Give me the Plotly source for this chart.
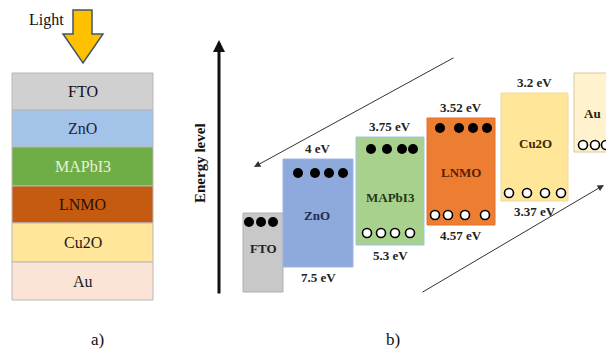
import plotly.graph_objects as go

# ---------------- data ----------------
layers = ["FTO", "ZnO", "MAPbI3", "LNMO", "Cu2O", "Au"]
stack_labels = ["FTO", "ZnO", "MAPbI3", "LNMO", "Cu2O", "Au"]
band_labels = ["FTO", "ZnO", "MAPbI3", "LNMO", "Cu2O", "Au"]
upper_energy = [None, 4, 3.75, 3.52, 3.2, None]      # eV (conduction level)
lower_energy = [None, 7.5, 5.3, 4.57, 3.37, None]    # eV (valence level)
n_electrons = [3, 4, 4, 4, 0, 0]
n_holes = [0, 0, 4, 4, 4, 3]

# ---------------- styles ----------------
stack_fill = ["#d0d0d0", "#a4c3e8", "#6fad47", "#c55a11", "#ffe69a", "#fbe4d6"]
stack_text = ["#111111", "#1a2540", "#e6f2dc", "#2a1203", "#1a1a1a", "#1a1a1a"]
band_fill = ["#c8c8c8", "#8eaadc", "#a9d18e", "#ed7d31", "#ffe699", "#fff2cc"]
band_line = ["#b0b0b0", "#9db4e0", "#9dc3e6", "#e07030", "#f0d8a0", "#d8c8a0"]
band_text = ["#222222", "#1f2d50", "#1f3a1a", "#5a1e05", "#3a2a05", "#2a2010"]
SERIF = "Liberation Serif"

# ---------------- layout geometry (pixels) ----------------
stack_x = (12, 153)
stack_y = [73, 110, 147, 186, 223, 262, 300]
band_box = [  # x0, x1, y0, y1
    (243, 283, 213, 292),
    (283, 353, 159, 267),
    (356, 424, 137, 245),
    (427, 495, 118, 225),
    (501, 568, 93, 201),
    (574, 625, 73, 152),
]
band_label_pos = [(263, 248), (317, 215), (390, 197), (461, 172), (535, 143), (592, 113)]
e_dot_y = [222, 173, 149, 128, None, None]
e_dot_x = [[249, 261, 273], [298, 315, 329, 343], [371, 387, 402, 413],
           [440, 459, 473, 487], [], []]
h_dot_y = [None, None, 233, 215, 193, 145]
h_dot_x = [[], [], [367, 381, 395, 410], [435, 448, 465, 485],
           [509, 527, 545, 561], [583, 595, 606]]

fig = go.Figure()
shapes = []
annotations = []

# ---- panel a: layer stack ----
for i, name in enumerate(layers):
    shapes.append(dict(type="rect", xref="x", yref="y", layer="below",
                       x0=stack_x[0], x1=stack_x[1], y0=stack_y[i], y1=stack_y[i + 1],
                       fillcolor=stack_fill[i], line=dict(color="#b8b8b8", width=1)))
    annotations.append(dict(x=(stack_x[0] + stack_x[1]) / 2, y=(stack_y[i] + stack_y[i + 1]) / 2,
                            text=stack_labels[i], showarrow=False,
                            font=dict(family=SERIF, size=16, color=stack_text[i])))

# light arrow
arrow_path = "M 73 10 L 92 10 L 92 34 L 103 34 L 83 63 L 63 34 L 73 34 Z"
shapes.append(dict(type="path", xref="x", yref="y", path=arrow_path, layer="below",
                   fillcolor="#ffc000", line=dict(color="#44546a", width=1.5)))
annotations.append(dict(x=46, y=20, text="Light", showarrow=False,
                        font=dict(family=SERIF, size=16, color="#111111")))

# ---- panel b: band diagram ----
for i, name in enumerate(band_labels):
    x0, x1, y0, y1 = band_box[i]
    shapes.append(dict(type="rect", xref="x", yref="y", x0=x0, x1=x1, y0=y0, y1=y1,
                       layer="below", fillcolor=band_fill[i],
                       line=dict(color=band_line[i], width=1)))
    lx, ly = band_label_pos[i]
    annotations.append(dict(x=lx, y=ly, text="<b>%s</b>" % name, showarrow=False,
                            font=dict(family=SERIF, size=13, color=band_text[i])))
    cx = (x0 + x1) / 2
    if upper_energy[i] is not None:
        annotations.append(dict(x=cx, y=y0 - 1, yanchor="bottom",
                                text="<b>%g eV</b>" % upper_energy[i], showarrow=False,
                                font=dict(family=SERIF, size=13, color="#222222")))
    if lower_energy[i] is not None:
        annotations.append(dict(x=cx, y=y1 + 1, yanchor="top",
                                text="<b>%g eV</b>" % lower_energy[i], showarrow=False,
                                font=dict(family=SERIF, size=13, color="#222222")))
    if n_electrons[i]:
        xs = e_dot_x[i][:n_electrons[i]]
        fig.add_trace(go.Scatter(x=xs, y=[e_dot_y[i]] * len(xs), mode="markers",
                                 marker=dict(size=10, color="black", line=dict(width=0)),
                                 hoverinfo="skip", showlegend=False, cliponaxis=False))
    if n_holes[i]:
        xs = h_dot_x[i][:n_holes[i]]
        fig.add_trace(go.Scatter(x=xs, y=[h_dot_y[i]] * len(xs), mode="markers",
                                 marker=dict(size=9, color="white", line=dict(width=1.6, color="black")),
                                 hoverinfo="skip", showlegend=False, cliponaxis=False))

# energy level axis arrow
annotations.append(dict(x=219, y=40, ax=219, ay=295, xref="x", yref="y", axref="x", ayref="y",
                        text="", showarrow=True, arrowhead=2, arrowsize=0.8, arrowwidth=3,
                        arrowcolor="#111111"))
annotations.append(dict(x=200, y=163, text="<b>Energy level</b>", textangle=-90, showarrow=False,
                        font=dict(family=SERIF, size=15, color="#111111")))

# diagonal arrows
annotations.append(dict(x=254, y=167, ax=455, ay=57, xref="x", yref="y", axref="x", ayref="y",
                        text="", showarrow=True, arrowhead=2, arrowsize=1.3, arrowwidth=1,
                        arrowcolor="#333333"))
annotations.append(dict(x=604, y=185, ax=421, ay=293, xref="x", yref="y", axref="x", ayref="y",
                        text="", showarrow=True, arrowhead=2, arrowsize=1.3, arrowwidth=1,
                        arrowcolor="#333333"))

# panel captions
annotations.append(dict(x=97, y=339, text="a)", showarrow=False,
                        font=dict(family=SERIF, size=17, color="#111111")))
annotations.append(dict(x=393, y=339, text="b)", showarrow=False,
                        font=dict(family=SERIF, size=17, color="#111111")))

fig.update_layout(
    width=606, height=350,
    margin=dict(l=0, r=0, t=0, b=0),
    paper_bgcolor="white", plot_bgcolor="white",
    xaxis=dict(range=[0, 606], visible=False, fixedrange=True),
    yaxis=dict(range=[350, 0], visible=False, fixedrange=True),
    shapes=shapes, annotations=annotations, showlegend=False,
)
fig.write_html("out.html", config={"displayModeBar": False},
               post_script="document.body.style.margin='0px';")
